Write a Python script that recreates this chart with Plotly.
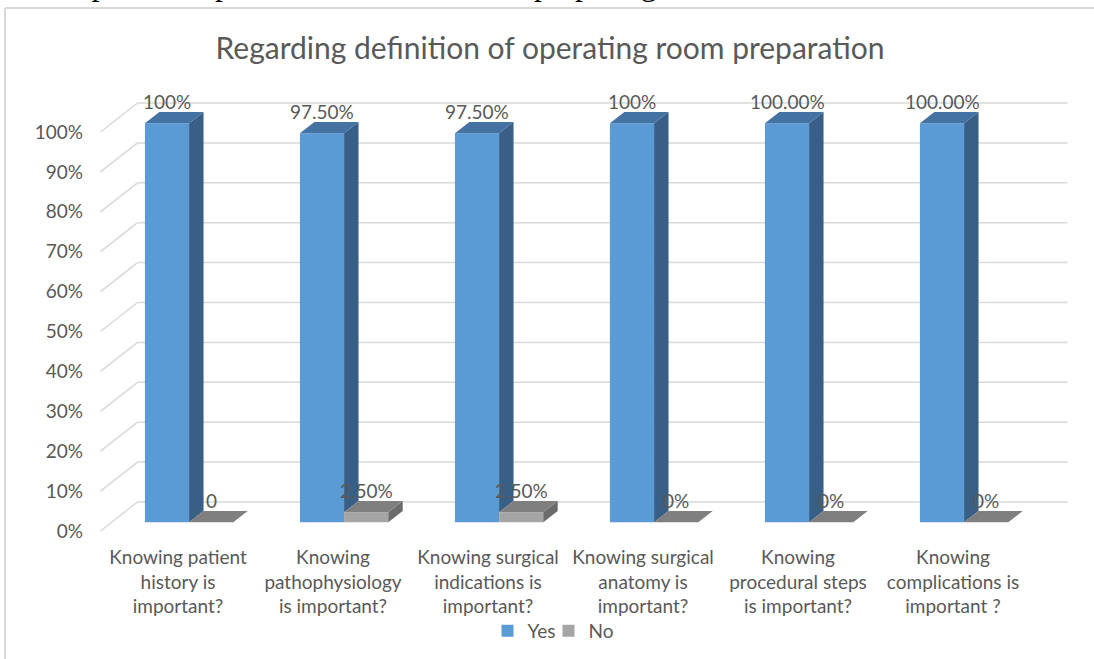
import plotly.graph_objects as go

# chart data
categories = [
    "Knowing patient<br>history is<br>important?",
    "Knowing<br>pathophysiology<br>is important?",
    "Knowing surgical<br>indications is<br>important?",
    "Knowing surgical<br>anatomy is<br>important?",
    "Knowing<br>procedural steps<br>is important?",
    "Knowing<br>complications is<br>important ?",
]
yes_values = [1.0, 0.975, 0.975, 1.0, 1.0, 1.0]
no_values = [0.0, 0.025, 0.025, 0.0, 0.0, 0.0]
yes_labels = ["100%", "97.50%", "97.50%", "100%", "100.00%", "100.00%"]
no_labels = ["0", "2.50%", "2.50%", "0%", "0%", "0%"]
y_ticks = [i / 10 for i in range(11)]

TITLE = "Regarding definition of operating room preparation"
DOC_LINE = "Important topics to be covered while preparing for an OT case."

# figure geometry (pixels)
W, H = 1094, 659
L, R, T, B = 90, 14, 60, 119
CAT0_PX, CAT_PX = 178, 155       # centre of first category at the front plane, spacing
ZERO_PX, UNIT_PX = 531, 399      # y pixel of 0 and pixels per 100% at the front plane
plot_w, plot_h = W - L - R, H - T - B

x_range = [(L - CAT0_PX) / CAT_PX, (W - R - CAT0_PX) / CAT_PX]
y_range = [-(H - B - ZERO_PX) / UNIT_PX, (ZERO_PX - T) / UNIT_PX]

# oblique "3d" projection: full depth moves right/up by DX/DY axis units
DX, DY = 37 / CAT_PX, 29 / UNIT_PX
D0, D1 = 0.30, 0.69              # bar front / back depth
BAR_W = 0.285
FLOOR = (-0.5, len(categories) - 0.5)

TEXT = "#595959"
GRID = "#d9d9d9"
FONT = "Lato"
FS = 19


def proj(x, v, d):
    return x + d * DX, v + d * DY


def faces(x0, x1, v, h0):
    top = [proj(x0, v, D0), proj(x1, v, D0), proj(x1, v, D1), proj(x0, v, D1)]
    side = [proj(x1, h0, D0), proj(x1, h0, D1), proj(x1, v, D1), proj(x1, v, D0)]
    return top, side


def poly_trace(polys, color):
    xs, ys = [], []
    for p in polys:
        xs += [pt[0] for pt in p] + [p[0][0], None]
        ys += [pt[1] for pt in p] + [p[0][1], None]
    return go.Scatter(x=xs, y=ys, mode="lines", fill="toself", fillcolor=color,
                      line=dict(width=0, color=color), hoverinfo="skip", showlegend=False)


fig = go.Figure()

series = [
    ("Yes", yes_values, -1, ["#5b9bd5", "#4472a2", "#385f85"]),
    ("No", no_values, 0, ["#a5a5a5", "#7f7f7f", "#6b6b6b"]),
]

for name, vals, off, (c_front, c_top, c_side) in series:
    xs = [i + off * BAR_W + BAR_W / 2 + D0 * DX for i in range(len(categories))]
    fig.add_trace(go.Bar(x=xs, y=vals, base=[D0 * DY] * len(vals), width=BAR_W,
                         name=name, marker=dict(color=c_front, line=dict(width=0)),
                         legendwidth=16 if name == "Yes" else None))
    tops, sides = [], []
    for i, v in enumerate(vals):
        x0 = i + off * BAR_W
        h0 = no_values[i] if name == "Yes" else 0.0
        top, side = faces(x0, x0 + BAR_W, v, min(h0, v))
        tops.append(top)
        sides.append(side)
    fig.add_trace(poly_trace(sides, c_side))
    fig.add_trace(poly_trace(tops, c_top))

# back wall gridlines and the diagonals on the left wall
shapes = []
for v in y_ticks:
    bx0, by = proj(FLOOR[0], v, 1)
    bx1, _ = proj(FLOOR[1], v, 1)
    shapes.append(dict(type="line", xref="x", yref="y", x0=FLOOR[0], y0=v, x1=bx0, y1=by,
                       line=dict(color=GRID, width=1.5), layer="below"))
    shapes.append(dict(type="line", xref="x", yref="y", x0=bx0, y0=by, x1=bx1, y1=by,
                       line=dict(color=GRID, width=1.5), layer="below"))


def px_x(p):
    return (p - L) / plot_w


def px_y(p):
    return (H - B - p) / plot_h


# chart frame (left and top edges visible)
shapes.append(dict(type="line", xref="paper", yref="paper", x0=px_x(5), y0=px_y(8),
                   x1=px_x(5), y1=px_y(H + 5), line=dict(color=GRID, width=2)))
shapes.append(dict(type="line", xref="paper", yref="paper", x0=px_x(5), y0=px_y(8),
                   x1=px_x(W + 5), y1=px_y(8), line=dict(color=GRID, width=2)))

annotations = []
for name, vals, labels, off in [("Yes", yes_values, yes_labels, -1), ("No", no_values, no_labels, 0)]:
    for i, (v, lab) in enumerate(zip(vals, labels)):
        annotations.append(dict(
            x=i + off * BAR_W + BAR_W / 2 + D0 * DX, y=v + D0 * DY, xref="x", yref="y",
            text=lab, showarrow=False, yanchor="middle", yshift=22,
            font=dict(family=FONT, size=FS, color=TEXT)))

# clipped line of document text above the chart
annotations.append(dict(x=px_x(54), y=px_y(4), xref="paper", yref="paper", text=DOC_LINE,
                        showarrow=False, xanchor="left", yanchor="bottom",
                        font=dict(family="Liberation Serif", size=32, color="black")))

fig.update_layout(
    width=W, height=H,
    margin=dict(l=L, r=R, t=T, b=B, autoexpand=False),
    paper_bgcolor="white", plot_bgcolor="white",
    barmode="overlay",
    title=dict(text=TITLE, x=550 / W, xanchor="center", y=1 - 48 / H, yanchor="middle",
               yref="container", font=dict(family=FONT, size=30, color=TEXT)),
    xaxis=dict(range=x_range, tickvals=list(range(len(categories))), ticktext=categories,
               showgrid=False, zeroline=False, showline=False, ticks="", automargin=False,
               ticklabelstandoff=4, tickfont=dict(family=FONT, size=FS, color=TEXT)),
    yaxis=dict(range=y_range, tickvals=y_ticks, tickformat=".0%",
               showgrid=False, zeroline=False, showline=False, ticks="", automargin=False,
               ticklabelstandoff=6, tickfont=dict(family=FONT, size=FS, color=TEXT)),
    legend=dict(orientation="h", xref="paper", x=px_x(553), xanchor="center",
                yref="container", y=1 - 631 / H, yanchor="middle",
                bgcolor="rgba(0,0,0,0)",
                font=dict(family=FONT, size=FS, color=TEXT), itemwidth=30,
                traceorder="normal"),
    shapes=shapes,
    annotations=annotations,
)

# the page's default body margin would shift the chart by 8px
fig.write_html("out.html", config={"displayModeBar": False},
               post_script="document.body.style.margin='0';")
